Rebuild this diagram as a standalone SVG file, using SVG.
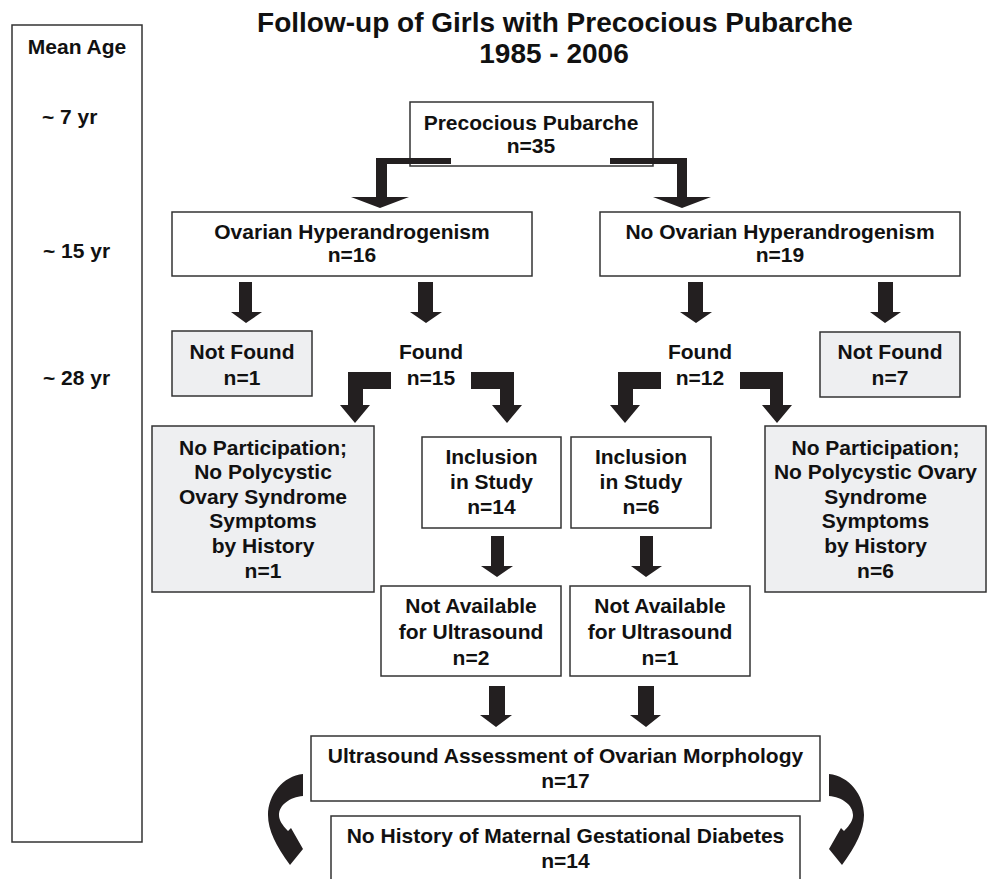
<svg xmlns="http://www.w3.org/2000/svg" width="992" height="879" viewBox="0 0 992 879">
<style>
text{font-family:"Liberation Sans",Arial,sans-serif;font-weight:bold;fill:#111;text-anchor:middle;font-size:21px}
.title{font-size:28px}
.age{text-anchor:start}
.box{fill:#fff;stroke:#333;stroke-width:1.5}
.grey{fill:#eeeff1;stroke:#333;stroke-width:1.5}
.arr{fill:#231f20}
</style>
<defs>
<path id="curve" d="M303,774 C283,776 268,795 268,815 C268,830 276,846 290,865 L303,849 L291,828 L288,831 C282,825 279,820 279,815 C279,805 290,797 303,796 Z"/>
</defs>
<rect width="992" height="879" fill="#fff"/>
<g id="title">
<text class="title" x="555" y="32">Follow-up of Girls with Precocious Pubarche</text>
<text class="title" x="554" y="63">1985 - 2006</text>
</g>
<g id="mean-age">
<rect class="box" x="12" y="25" width="130" height="817" stroke="#555" stroke-width="2"/>
<text x="77" y="54">Mean Age</text>
<text class="age" x="42" y="124">~ 7 yr</text>
<text class="age" x="43" y="258">~ 15 yr</text>
<text class="age" x="43" y="385">~ 28 yr</text>
</g>
<g id="precocious">
<rect class="box" x="410" y="102" width="243" height="64"/>
<text x="531" y="130">Precocious Pubarche</text>
<text x="531" y="153">n=35</text>
</g>
<g id="ovarian">
<rect class="box" x="172" y="212" width="360" height="64"/>
<text x="352" y="239">Ovarian Hyperandrogenism</text>
<text x="352" y="262">n=16</text>
</g>
<g id="no-ovarian">
<rect class="box" x="600" y="212" width="360" height="64"/>
<text x="780" y="239">No Ovarian Hyperandrogenism</text>
<text x="780" y="262">n=19</text>
</g>
<g id="notfound-1">
<rect class="grey" x="172" y="331" width="140" height="65"/>
<text x="242" y="359">Not Found</text>
<text x="242" y="385">n=1</text>
</g>
<g id="found-15">
<text x="431" y="359">Found</text>
<text x="431" y="385">n=15</text>
</g>
<g id="found-12">
<text x="700" y="359">Found</text>
<text x="700" y="385">n=12</text>
</g>
<g id="notfound-7">
<rect class="grey" x="820" y="332" width="140" height="65"/>
<text x="890" y="359">Not Found</text>
<text x="890" y="385">n=7</text>
</g>
<g id="noparticipation-left">
<rect class="grey" x="152" y="426" width="222" height="166"/>
<text x="263" y="455">No Participation;</text>
<text x="263" y="479">No Polycystic</text>
<text x="263" y="504">Ovary Syndrome</text>
<text x="263" y="528">Symptoms</text>
<text x="263" y="553">by History</text>
<text x="263" y="578">n=1</text>
</g>
<g id="inclusion-14">
<rect class="box" x="422" y="437" width="139" height="91"/>
<text x="491.5" y="464">Inclusion</text>
<text x="491.5" y="489">in Study</text>
<text x="491.5" y="514">n=14</text>
</g>
<g id="inclusion-6">
<rect class="box" x="571" y="437" width="140" height="91"/>
<text x="641" y="464">Inclusion</text>
<text x="641" y="489">in Study</text>
<text x="641" y="514">n=6</text>
</g>
<g id="noparticipation-right">
<rect class="grey" x="765" y="426" width="221" height="166"/>
<text x="875.5" y="455">No Participation;</text>
<text x="875.5" y="479">No Polycystic Ovary</text>
<text x="875.5" y="504">Syndrome</text>
<text x="875.5" y="528">Symptoms</text>
<text x="875.5" y="553">by History</text>
<text x="875.5" y="578">n=6</text>
</g>
<g id="notavailable-2">
<rect class="box" x="381" y="586" width="180" height="90"/>
<text x="471" y="613">Not Available</text>
<text x="471" y="639">for Ultrasound</text>
<text x="471" y="665">n=2</text>
</g>
<g id="notavailable-1">
<rect class="box" x="570" y="586" width="180" height="90"/>
<text x="660" y="613">Not Available</text>
<text x="660" y="639">for Ultrasound</text>
<text x="660" y="665">n=1</text>
</g>
<g id="ultrasound">
<rect class="box" x="311" y="736" width="509" height="65"/>
<text x="565.5" y="763">Ultrasound Assessment of Ovarian Morphology</text>
<text x="565.5" y="788">n=17</text>
</g>
<g id="no-history">
<rect class="box" x="331" y="816" width="469" height="70"/>
<text x="565.5" y="843">No History of Maternal Gestational Diabetes</text>
<text x="565.5" y="868">n=14</text>
</g>
<g id="connectors" class="arr">
<polygon points="451,158 451,164 387,164 387,197 409,197 380,208 351,197 376,197 376,158"/>
<polygon points="610,158 687,158 687,197 711,197 682,208 653,197 677,197 677,164 610,164"/>
<polygon points="239,282 252,282 252,312 262,312 246,323 231,312 239,312"/>
<polygon points="418,282 433,282 433,312 442,312 426,323 410,312 418,312"/>
<polygon points="688,282 703,282 703,312 712,312 696,323 680,312 688,312"/>
<polygon points="878,282 893,282 893,312 901,312 885,323 870,312 878,312"/>
<polygon points="391,372 391,389 363,389 363,405 370,405 355,423 340,405 348,405 348,372"/>
<polygon points="471,372 514,372 514,405 522,405 507,423 492,405 500,405 500,389 471,389"/>
<polygon points="661,372 661,389 633,389 633,405 640,405 625,423 610,405 618,405 618,372"/>
<polygon points="740,372 783,372 783,405 792,405 777,423 762,405 770,405 770,389 740,389"/>
<polygon points="491,536 504,536 504,566 513,566 497,577 481,566 491,566"/>
<polygon points="640,536 653,536 653,566 662,566 646,577 631,566 640,566"/>
<polygon points="489,686 505,686 505,715 512,715 496,727 480,715 489,715"/>
<polygon points="638,686 654,686 654,715 661,715 646,727 630,715 638,715"/>
<use href="#curve"/>
<use href="#curve" transform="translate(1132,0) scale(-1,1)"/>
</g>
</svg>
